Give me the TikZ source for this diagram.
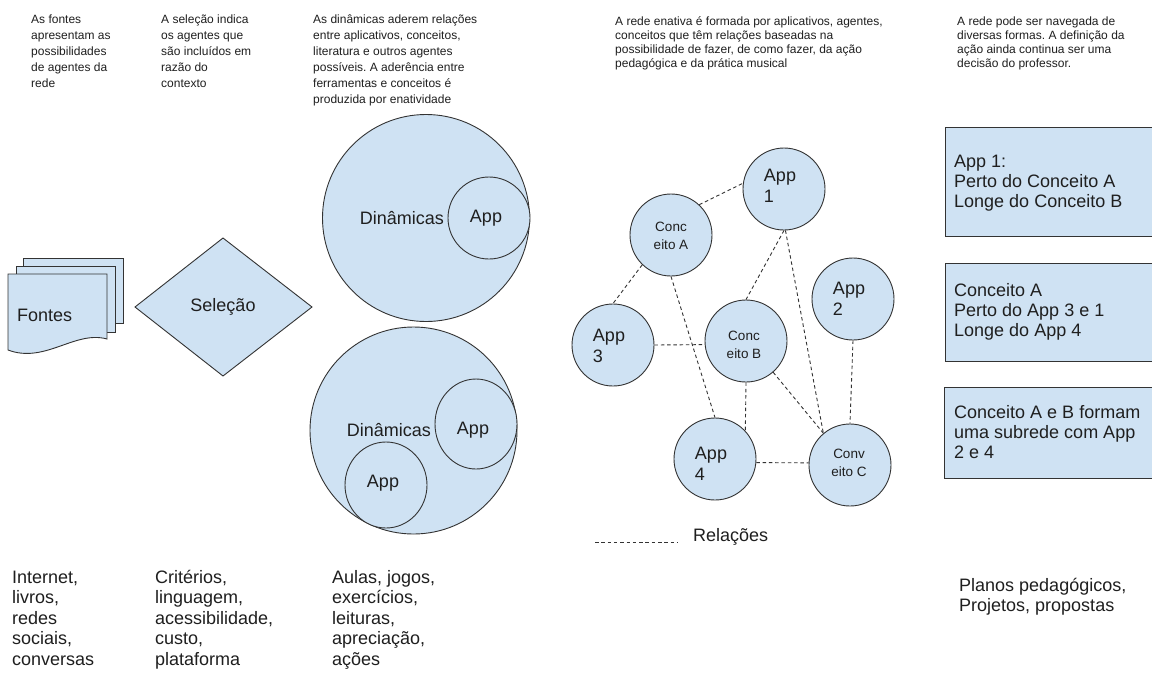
\documentclass[tikz,border=0pt]{standalone}
\usepackage{fontspec}
\setmainfont{Liberation Sans}
\usetikzlibrary{shapes.geometric}
\definecolor{fillblue}{HTML}{CFE2F3}
\definecolor{edgec}{HTML}{333333}
\definecolor{txt}{HTML}{1F1F1F}
\newcommand{\fsz}[2]{\fontsize{#1pt}{#2pt}\selectfont}
\frenchspacing
\begin{document}
\begin{tikzpicture}[x=1pt,y=-1pt,
  bluefill/.style={fill=fillblue, draw=edgec, line width=0.9pt},
  circ/.style={bluefill, circle, inner sep=0pt, minimum size=82pt},
  ell/.style={bluefill, ellipse, inner sep=0pt},
  rel/.style={draw=edgec, line width=0.9pt, dash pattern=on 3.5pt off 2.8pt},
  toptext/.style={anchor=north west, inner sep=0pt, align=left, font=\fsz{12}{16}, text=txt},
  toptextb/.style={anchor=north west, inner sep=0pt, align=left, font=\fsz{12}{14}, text=txt},
  bigtext/.style={inner sep=0pt, font=\fsz{18}{20.5}, text=txt},
  bottext/.style={anchor=north west, inner sep=0pt, align=left, font=\fsz{18}{20.5}, text=txt},
  apptext/.style={font=\fsz{18}{21.5}, align=left, text=txt},
  conctext/.style={font=\fsz{13.5}{18}, align=center, text=txt},
  boxtext/.style={anchor=west, inner sep=0pt, align=left, font=\fsz{18}{20}, text=txt},
]
\fill[white] (0,0) rectangle (1152,673);
\useasboundingbox (0,0) rectangle (1152,673);

% top texts
\node[toptext] (t1) at (31,11.8) {\strut As fontes\\apresentam as\\possibilidades\\de agentes da\\rede};
\node[toptext] (t2) at (161,11.8) {\strut A seleção indica\\os agentes que\\são incluídos em\\razão do\\contexto};
\node[toptext] (t3) at (313,11.8) {\strut As dinâmicas aderem relações\\entre aplicativos, conceitos,\\literatura e outros agentes\\possíveis. A aderência entre\\ferramentas e conceitos é\\produzida por enatividade};
\node[toptextb] (t4) at (615,15.2) {\strut A rede enativa é formada por aplicativos, agentes,\\conceitos que têm relações baseadas na\\possibilidade de fazer, de como fazer, da ação\\pedagógica e da prática musical};
\node[toptextb] (t5) at (957,15.2) {\strut A rede pode ser navegada de\\diversas formas. A definição da\\ação ainda continua ser uma\\decisão do professor.};

% Fontes (multiple documents)
\draw[bluefill] (23,258) rectangle (123,323);
\draw[bluefill] (16,266) rectangle (115,332);
\draw[bluefill] (8,274) -- (107,274) -- (107,339)
  .. controls (75,330) and (45,364) .. (8,350) -- cycle;
\node[bigtext, anchor=west] (fontes) at (17,315) {Fontes};

% Selecao diamond
\draw[bluefill] (135,307) -- (223,238) -- (312,307) -- (223,376) -- cycle;
\node[bigtext] (selecao) at (223,307) {Seleção};

% Dinamicas circles
\node[circ, minimum size=207pt] (din1) at (426,218) {};
\node[circ, minimum size=82pt] (app1in) at (489,218) {};
\node[bigtext] (din1t) at (402,218) {Dinâmicas};
\node[bigtext] (app1int) at (486,218) {App};

\node[circ, minimum size=207pt] (din2) at (413.5,430.5) {};
\node[ell, minimum width=82pt, minimum height=90pt] (app2in) at (476,424) {};
\node[ell, minimum width=82pt, minimum height=86pt] (app3in) at (386,485) {};
\node[bigtext] (din2t) at (389,430) {Dinâmicas};
\node[bigtext] (app2int) at (473,430) {App};
\node[bigtext] (app3int) at (383,483) {App};

% network
\node[circ] (A1) at (784,189) {};
\node[circ] (CA) at (671,235) {};
\node[circ] (A2) at (853,299) {};
\node[circ] (A3) at (613,345) {};
\node[circ] (CB) at (746,341) {};
\node[circ] (A4) at (715,459) {};
\node[circ] (CC) at (850,465) {};

\node[apptext] (A1t) at (780,186) {App\\1};
\node[apptext] (A2t) at (849,299) {App\\2};
\node[apptext] (A3t) at (609,346) {App\\3};
\node[apptext] (A4t) at (711,464) {App\\4};
\node[conctext] (CAt) at (671,236) {Conc\\eito A};
\node[conctext] (CBt) at (744,345) {Conc\\eito B};
\node[conctext] (CCt) at (849,463) {Conv\\eito C};

\draw[rel] (CA.47) -- (A1.172);
\draw[rel] (CA.226) -- (A3.90);
\draw[rel] (CA.270) -- (A4.90);
\draw[rel] (A1.270) -- (CB.90);
\draw[rel] (A1.272) -- (CC.130);
\draw[rel] (A3.0) -- (CB.185.6);
\draw[rel] (CB.270) -- (A4.43);
\draw[rel] (CB.311) -- (CC.130);
\draw[rel] (A2.270) -- (CC.90);
\draw[rel] (A4.-5.6) -- (CC.177);

% legend
\coordinate (lg1) at (595,542);
\coordinate (lg2) at (677,542);
\draw[rel] (lg1) -- (lg2);
\node[bigtext, anchor=west] (relacoes) at (693,537) {Relações};

% right boxes
\begin{scope}
\clip (0,0) rectangle (1152,673);
\node[bluefill, rectangle, anchor=north west, minimum width=215pt, minimum height=109pt, inner sep=0pt] (b1) at (945,127) {};
\node[bluefill, rectangle, anchor=north west, minimum width=215pt, minimum height=98pt, inner sep=0pt] (b2) at (945,263) {};
\node[bluefill, rectangle, anchor=north west, minimum width=215pt, minimum height=91pt, inner sep=0pt] (b3) at (944,387) {};
\end{scope}
\node[boxtext] (b1t) at (954,183) {App 1:\\Perto do Conceito A\\Longe do Conceito B};
\node[boxtext] (b2t) at (954,312) {Conceito A\\Perto do App 3 e 1\\Longe do App 4};
\node[boxtext] (b3t) at (954,432) {Conceito A e B formam\\uma subrede com App\\2 e 4};

% bottom texts
\node[bottext] (bt1) at (12,568.6) {\strut Internet,\\livros,\\redes\\sociais,\\conversas};
\node[bottext] (bt2) at (155,568.6) {\strut Critérios,\\linguagem,\\acessibilidade,\\custo,\\plataforma};
\node[bottext] (bt3) at (332,568.6) {\strut Aulas, jogos,\\exercícios,\\leituras,\\apreciação,\\ações};
\node[bottext] (bt4) at (959,576.6) {\strut Planos pedagógicos,\\Projetos, propostas};
\end{tikzpicture}
\end{document}
